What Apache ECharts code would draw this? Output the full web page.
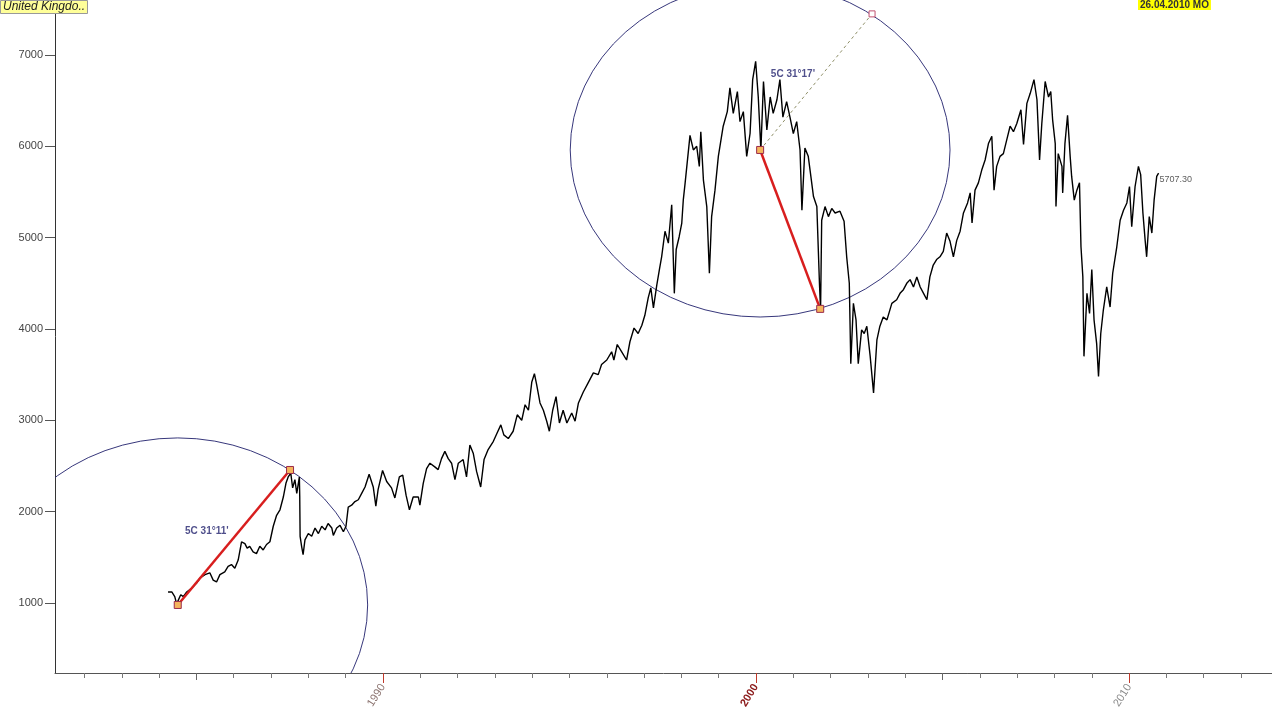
<!DOCTYPE html>
<html><head><meta charset="utf-8">
<script src="https://cdn.jsdelivr.net/npm/echarts@6/dist/echarts.min.js"></script>
<style>html,body{margin:0;padding:0;background:#fff}#c{width:1272px;height:728px}</style>
</head><body><div id="c"></div><script>
// ---- data ----
const years = [
1984.24,1984.34,1984.42,1984.47,1984.58,1984.65,1984.74,1984.87,1985.01,1985.09,
1985.23,1985.36,1985.45,1985.54,1985.63,1985.76,1985.85,1985.94,1986.03,1986.12,
1986.21,1986.30,1986.36,1986.43,1986.52,1986.61,1986.70,1986.79,1986.88,1986.97,
1987.06,1987.15,1987.24,1987.33,1987.40,1987.46,1987.53,1987.58,1987.64,1987.69,
1987.76,1987.77,1987.78,1987.82,1987.86,1987.91,1988.00,1988.09,1988.18,1988.27,
1988.36,1988.45,1988.53,1988.63,1988.67,1988.76,1988.85,1988.94,1989.01,1989.07,
1989.16,1989.25,1989.34,1989.43,1989.52,1989.63,1989.74,1989.81,1989.87,1989.99,
1990.10,1990.23,1990.32,1990.44,1990.53,1990.62,1990.71,1990.81,1990.95,1990.99,
1991.08,1991.17,1991.26,1991.39,1991.48,1991.57,1991.66,1991.75,1991.84,1991.93,
1992.02,1992.15,1992.24,1992.33,1992.42,1992.51,1992.62,1992.71,1992.82,1992.96,
1993.06,1993.16,1993.24,1993.36,1993.49,1993.60,1993.72,1993.81,1993.90,1993.99,
1994.06,1994.12,1994.21,1994.30,1994.39,1994.46,1994.55,1994.64,1994.73,1994.83,
1994.93,1995.06,1995.15,1995.24,1995.37,1995.50,1995.64,1995.77,1995.86,1996.00,
1996.13,1996.19,1996.28,1996.40,1996.53,1996.62,1996.73,1996.84,1996.94,1997.02,
1997.11,1997.18,1997.25,1997.34,1997.41,1997.47,1997.56,1997.65,1997.74,1997.81,
1997.86,1997.94,1998.01,1998.05,1998.10,1998.23,1998.32,1998.41,1998.48,1998.52,
1998.59,1998.68,1998.75,1998.81,1998.90,1998.99,1999.12,1999.23,1999.30,1999.39,
1999.50,1999.57,1999.66,1999.75,1999.84,1999.91,1999.99,2000.06,2000.13,2000.20,
2000.29,2000.38,2000.46,2000.56,2000.64,2000.72,2000.82,2000.91,2001.00,2001.09,
2001.18,2001.23,2001.31,2001.40,2001.47,2001.54,2001.63,2001.70,2001.73,2001.76,
2001.85,2001.94,2002.03,2002.12,2002.25,2002.36,2002.43,2002.50,2002.54,2002.61,
2002.68,2002.74,2002.83,2002.90,2002.97,2003.06,2003.15,2003.24,2003.32,2003.41,
2003.51,2003.64,2003.77,2003.86,2003.95,2004.04,2004.13,2004.22,2004.31,2004.40,
2004.49,2004.58,2004.66,2004.75,2004.84,2004.93,2005.02,2005.11,2005.20,2005.29,
2005.38,2005.47,2005.56,2005.67,2005.74,2005.79,2005.87,2005.96,2006.05,2006.14,
2006.23,2006.32,2006.38,2006.45,2006.54,2006.63,2006.72,2006.81,2006.90,2006.99,
2007.10,2007.17,2007.26,2007.35,2007.45,2007.53,2007.60,2007.66,2007.75,2007.84,
2007.90,2007.95,2008.02,2008.04,2008.10,2008.20,2008.22,2008.28,2008.35,2008.42,
2008.46,2008.53,2008.60,2008.67,2008.71,2008.76,2008.79,2008.87,2008.94,2009.00,
2009.06,2009.13,2009.18,2009.24,2009.31,2009.40,2009.49,2009.56,2009.67,2009.76,
2009.85,2009.94,2010.01,2010.07,2010.16,2010.25,2010.31,2010.37,2010.43,2010.47,
2010.54,2010.61,2010.67,2010.74,2010.79
];
const values = [
1120,1120,1070,990,1090,1070,1120,1160,1220,1270,
1310,1330,1250,1230,1310,1340,1400,1420,1380,1470,
1670,1650,1600,1620,1560,1540,1620,1580,1640,1670,
1840,1960,2020,2160,2310,2380,2420,2260,2350,2200,
2380,2160,1730,1620,1530,1690,1760,1730,1820,1760,
1840,1800,1870,1820,1740,1820,1850,1780,1840,2050,
2070,2110,2130,2200,2270,2410,2270,2060,2240,2450,
2330,2260,2150,2380,2400,2180,2020,2160,2160,2070,
2310,2470,2530,2490,2460,2580,2660,2580,2530,2350,
2530,2570,2380,2730,2640,2440,2270,2570,2680,2770,
2860,2950,2840,2800,2880,3060,3000,3170,3110,3420,
3510,3390,3190,3110,2990,2880,3110,3260,2970,3110,
2970,3080,2990,3190,3310,3410,3520,3500,3610,3660,
3750,3660,3830,3750,3660,3860,4010,3950,4040,4150,
4340,4450,4230,4480,4650,4790,5070,4940,5360,4390,
4870,5010,5160,5410,5600,6120,5960,6000,5780,6160,
5630,5340,4610,5230,5520,5890,6220,6380,6640,6360,
6600,6270,6380,5890,6140,6730,6930,6540,5960,6710,
6180,6540,6360,6510,6730,6320,6490,6320,6140,6270,
5960,5300,5980,5890,5670,5450,5340,4500,4210,5190,
5340,5230,5320,5270,5290,5180,4790,4500,3620,4280,
4100,3620,3990,3950,4030,3700,3300,3880,4030,4130,
4100,4280,4320,4390,4430,4500,4540,4460,4570,4460,
4390,4320,4570,4700,4760,4790,4850,5050,4960,4790,
4970,5070,5270,5380,5490,5160,5520,5600,5740,5850,
6030,6110,5520,5780,5890,5920,6070,6220,6160,6250,
6400,6020,6470,6580,6730,6510,5850,6250,6710,6540,
6600,6290,6030,5340,5920,5780,5490,6030,6340,5890,
5670,5410,5520,5600,4900,4570,3700,4390,4170,4650,
4100,3840,3480,3950,4210,4460,4240,4610,4900,5190,
5300,5380,5560,5120,5560,5780,5690,5270,4970,4790,
5230,5050,5410,5670,5707.3
];
const lastLabel = '5707.30';
const yTicks = [1000, 2000, 3000, 4000, 5000, 6000, 7000];
const yearTicks = [1982,1983,1984,1985,1986,1987,1988,1989,1990,1991,1992,1993,1994,1995,1996,1997,1998,1999,2000,2001,2002,2003,2004,2005,2006,2007,2008,2009,2010,2011,2012,2013];
const midTicks = [1985, 2005];
const decadeTicks = [1990, 2000, 2010];
// annotations: ellipse [centerYear, centerValue, radiusYears, radiusValue]
const ellipses = [[1984.50, 978, 5.09, 1829], [2000.11, 5960, 5.09, 1829]];
const redLine1 = [[1984.50, 978], [1987.51, 2456]];
const redLine2 = [[2000.11, 5960], [2001.72, 4220]];
const dotLine = [[2000.11, 5960], [2003.11, 7450]];
const angleLabels = [[1985.28, 1788, "5C 31°11'"], [2000.99, 6792, "5C 31°17'"]];
const titleLeft = 'United Kingdo..';
const titleRight = '26.04.2010 MO';
const X_MIN = 1981.21, X_MAX = 2013.83, Y_MIN = 233, Y_MAX = 7602;

const FONT = 'Liberation Sans, Arial, sans-serif';
const series_data = years.map((y, i) => [y, values[i]]);
const chart = echarts.init(document.getElementById('c'), null, {renderer: 'canvas'});

function baseX(extra) {
  return Object.assign({
    type: 'value', min: X_MIN, max: X_MAX, position: 'bottom',
    splitLine: {show: false}, axisLine: {show: false},
    axisLabel: {show: false}, axisTick: {show: false}
  }, extra);
}

const option = {
  animation: false,
  backgroundColor: '#ffffff',
  title: [
    {text: titleLeft, left: 0, top: 0, padding: [1, 3, 1, 3], backgroundColor: '#ffff99',
     borderColor: '#999', borderWidth: 1, z: 10,
     textStyle: {fontSize: 12, fontStyle: 'italic', fontWeight: 'normal', color: '#222', fontFamily: FONT}},
    {text: titleRight, left: 1138, top: 0, padding: [0, 2, 0, 2], backgroundColor: '#ffff00', z: 10,
     textStyle: {fontSize: 10, fontWeight: 'bold', color: '#333', fontFamily: FONT}}
  ],
  grid: {left: 55, right: 0, top: 0, bottom: 55},
  xAxis: [
    baseX({
      axisLine: {show: true, lineStyle: {color: '#555', width: 1}},
      axisTick: {show: true, customValues: yearTicks, length: 5, lineStyle: {color: '#777'}},
      axisLabel: {show: true, customValues: decadeTicks, rotate: 58, margin: 12,
        formatter: function (v) { const y = Math.round(v); return '{y' + y + '|' + y + '}'; },
        rich: {
          y1990: {color: '#8c7470', fontSize: 11, fontFamily: FONT},
          y2000: {color: '#8b1a1a', fontSize: 11, fontWeight: 'bold', fontFamily: FONT},
          y2010: {color: '#8a8a8a', fontSize: 11, fontFamily: FONT}
        }}
    }),
    baseX({axisTick: {show: true, customValues: midTicks, length: 7, lineStyle: {color: '#666', width: 1}}}),
    baseX({axisTick: {show: true, customValues: decadeTicks, length: 10, lineStyle: {color: '#c0392b', width: 1}}})
  ],
  yAxis: {
    type: 'value', min: Y_MIN, max: Y_MAX,
    splitLine: {show: false},
    axisLine: {show: true, lineStyle: {color: '#333', width: 1}},
    axisTick: {show: true, customValues: yTicks, length: 10, lineStyle: {color: '#555'}},
    axisLabel: {customValues: yTicks, margin: 12, color: '#444', fontSize: 11, fontFamily: FONT,
                formatter: function (v) { return String(Math.round(v)); }}
  },
  series: [
    {type: 'line', name: 'FTSE', data: series_data, showSymbol: false, symbol: 'none',
     lineStyle: {color: '#000', width: 1.4}, z: 3, xAxisIndex: 0},
    {type: 'custom', data: ellipses, clip: true, xAxisIndex: 0, z: 2, silent: true,
     renderItem: function (params, api) {
       const c = api.coord([api.value(0), api.value(1)]);
       const s = api.size([api.value(2), api.value(3)]);
       return {type: 'circle', x: c[0], y: c[1], scaleY: s[1] / s[0],
               shape: {cx: 0, cy: 0, r: s[0]},
               style: {fill: 'none', stroke: '#2a2a72', lineWidth: 1}};
     }},
    {type: 'line', data: dotLine.map((p, i) => i === 0 ? {value: p, symbol: 'none'} :
       {value: p, symbol: 'rect', symbolSize: 6, itemStyle: {color: '#fff', borderColor: '#c05070', borderWidth: 1}}),
     showSymbol: true, lineStyle: {color: '#8f8f68', width: 1, type: [3, 3]}, z: 4, silent: true},
    {type: 'line', data: redLine1, symbol: 'rect', symbolSize: 7, showSymbol: true,
     lineStyle: {color: '#d81e1e', width: 2.5}, itemStyle: {color: '#f4b45c', borderColor: '#9b2a4a', borderWidth: 1}, z: 5, silent: true},
    {type: 'line', data: redLine2, symbol: 'rect', symbolSize: 7, showSymbol: true,
     lineStyle: {color: '#d81e1e', width: 2.5}, itemStyle: {color: '#f4b45c', borderColor: '#9b2a4a', borderWidth: 1}, z: 5, silent: true},
    {type: 'scatter', data: angleLabels, symbolSize: 0, silent: true, z: 6,
     label: {show: true, position: 'inside', formatter: p => p.value[2], color: '#23236e',
             fontSize: 10, fontWeight: 'bold', fontFamily: FONT}},
    {type: 'scatter', data: [series_data[series_data.length - 1]], symbolSize: 0, silent: true, z: 6,
     label: {show: true, position: 'right', distance: 1, offset: [0, 6], formatter: lastLabel,
             color: '#333', fontSize: 9, fontFamily: FONT}}
  ]
};
chart.setOption(option);
</script></body></html>
